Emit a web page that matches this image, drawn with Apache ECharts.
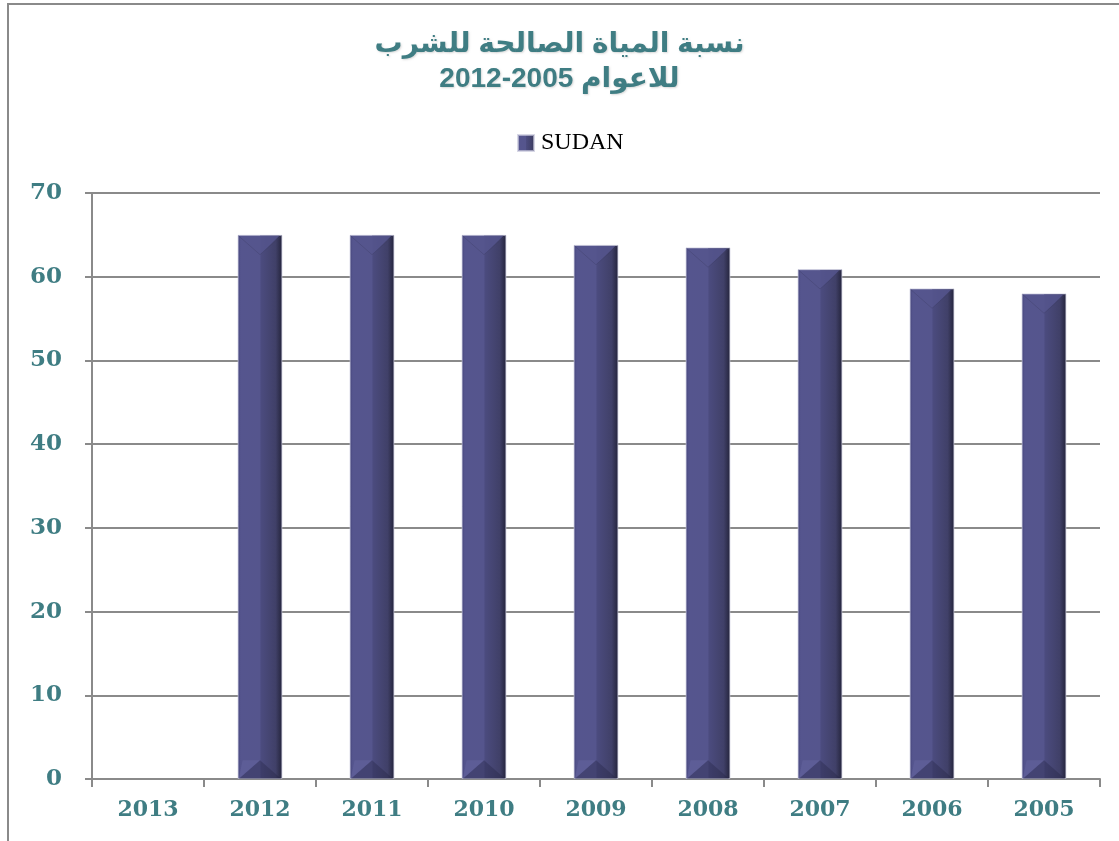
<!DOCTYPE html>
<html>
<head>
<meta charset="utf-8">
<script src="https://cdn.jsdelivr.net/npm/echarts@6/dist/echarts.min.js"></script>
<style>
  html, body { margin: 0; padding: 0; background: #fff; }
  #chart { width: 1119px; height: 841px; }
</style>
</head>
<body>
<div id="chart"></div>
<script>
// السنوات (من اليمين لليسار كما في الاصل)
var years = ['2013', '2012', '2011', '2010', '2009', '2008', '2007', '2006', '2005'];
// نسبة المياه الصالحة للشرب - السودان
var sudanValues = [null, 65, 65, 65, 63.8, 63.5, 60.9, 58.6, 58];
var yTicks = { min: 0, max: 70, interval: 10 };

var teal = '#3f7d83';
var axisGray = '#8a8a8a';

var myChart = echarts.init(document.getElementById('chart'));

// تدرج لوني للاعمدة
var barGradient = new echarts.graphic.LinearGradient(0, 0, 1, 0, [
  { offset: 0, color: '#44447a' },
  { offset: 0.07, color: '#55558e' },
  { offset: 0.49, color: '#55558d' },
  { offset: 0.53, color: '#4b4b7e' },
  { offset: 0.85, color: '#404068' },
  { offset: 1, color: '#23233a' }
]);

// زخرفة اعلى واسفل العمود (شكل الهرم)
function renderBevel(params, api) {
  var v = api.value(1);
  if (v == null || isNaN(v)) return;
  var top = api.coord([api.value(0), v]);
  var bot = api.coord([api.value(0), 0]);
  var w = api.size([1, 0])[0] * 0.4;
  var x0 = top[0] - w / 2 + 1, x1 = top[0] + w / 2 - 1, xc = top[0];
  var t = top[1] + 1, b = bot[1];
  var d = w * 0.42;
  return {
    type: 'group',
    children: [
      { type: 'polygon', shape: { points: [[xc, t], [x1 - 2, t], [xc, t + d]] },
        style: { fill: 'rgba(85,85,141,0.85)' } },
      { type: 'polyline', shape: { points: [[x0, t], [xc, t + d], [x1, t]] },
        style: { stroke: 'rgba(60,60,100,0.35)', lineWidth: 1, fill: 'none' } },
      { type: 'polygon', shape: { points: [[x0, b], [x1, b], [xc, b - d]] },
        style: { fill: 'rgba(35,35,65,0.35)' } },
      { type: 'polygon', shape: { points: [[x0, b], [xc, b - d], [x0 + 4, b - d]] },
        style: { fill: 'rgba(120,120,180,0.25)' } }
    ]
  };
}

var option = {
  backgroundColor: '#fff',
  animation: false,
  graphic: [{
    type: 'rect',
    shape: { x: 8, y: 4, width: 1300, height: 1000 },
    style: { fill: 'none', stroke: axisGray, lineWidth: 2 },
    silent: true
  }],
  title: {
    text: 'نسبة المياة الصالحة للشرب\n2012-2005 للاعوام',
    left: 'center',
    top: 22,
    padding: [5, 0, 5, 20],
    textStyle: {
      color: teal,
      fontSize: 28,
      fontWeight: 'bold',
      fontFamily: 'Liberation Sans, DejaVu Sans, sans-serif',
      lineHeight: 35,
      textShadowColor: 'rgba(0,0,0,0.15)',
      textShadowBlur: 2,
      textShadowOffsetX: 1,
      textShadowOffsetY: 1
    }
  },
  legend: {
    top: 126,
    left: 512,
    itemWidth: 16,
    itemHeight: 16,
    itemGap: 10,
    icon: 'rect',
    textStyle: {
      color: '#000',
      fontSize: 24,
      fontFamily: 'Liberation Serif, serif',
      padding: [0, 0, 0, 2]
    },
    data: ['SUDAN']
  },
  grid: { left: 92, right: 19, top: 193, bottom: 62, containLabel: false },
  xAxis: {
    type: 'category',
    data: years,
    axisLine: { lineStyle: { color: axisGray, width: 2 } },
    axisTick: { show: true, interval: 0, length: 8, lineStyle: { color: axisGray, width: 2 } },
    axisLabel: {
      interval: 0,
      margin: 20,
      color: teal,
      fontSize: 22,
      fontWeight: 'bold',
      fontFamily: 'DejaVu Serif, serif'
    }
  },
  yAxis: {
    type: 'value',
    min: yTicks.min,
    max: yTicks.max,
    interval: yTicks.interval,
    axisLine: { show: true, lineStyle: { color: axisGray, width: 2 } },
    axisTick: { show: true, length: 7, lineStyle: { color: axisGray, width: 2 } },
    splitLine: { lineStyle: { color: axisGray, width: 2 } },
    axisLabel: {
      margin: 30,
      color: teal,
      fontSize: 23,
      fontWeight: 'bold',
      fontFamily: 'DejaVu Serif, serif'
    }
  },
  series: [
    {
      name: 'SUDAN',
      type: 'bar',
      barWidth: '40%',
      data: sudanValues,
      itemStyle: {
        color: barGradient,
        borderColor: 'rgba(200,200,220,0.7)',
        borderWidth: 1
      }
    },
    {
      name: 'bevel',
      type: 'custom',
      silent: true,
      renderItem: renderBevel,
      data: years.map(function (y, i) { return [i, sudanValues[i]]; }),
      z: 3
    }
  ]
};
myChart.setOption(option);
</script>
</body>
</html>
